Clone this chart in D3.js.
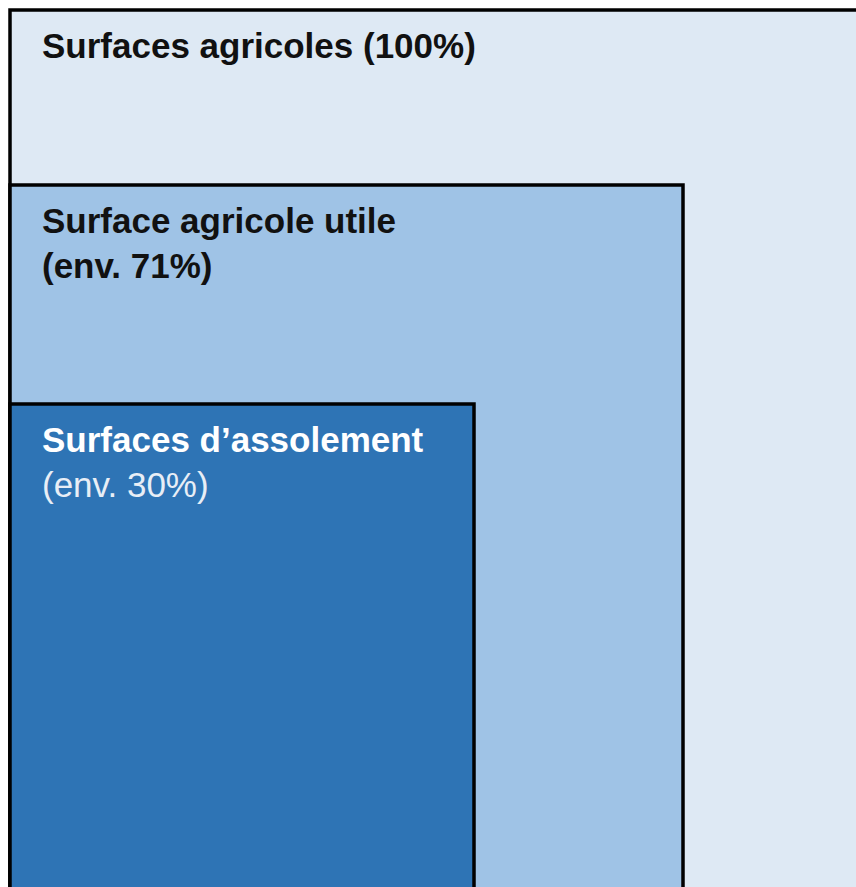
<!DOCTYPE html>
<html>
<head>
<meta charset="utf-8">
<script src="https://cdn.jsdelivr.net/npm/d3@7"></script>
<style>
  body { margin: 0; background: #fff; }
</style>
</head>
<body>
<script>
        var w = 856;
        var h = 887;

        // nested surfaces, biggest first
        var names = ["Surfaces agricoles (100%)", "Surface agricole utile", "Surfaces d\u2019assolement"];
        var subNames = ["", "(env. 71%)", "(env. 30%)"];
        var shares = [100, 71, 30];
        var fills = ["#dee9f4", "#9fc3e6", "#2e74b5"];
        var textColors = ["#111", "#111", "#fff"];

        var svg = d3.select("body").append("svg")
                  .attr("width", w)
                  .attr("height", h);

        // share -> box width / top edge (boxes share the bottom-left corner)
        var widthScale = d3.scaleLinear().domain([30, 71, 100]).range([464, 673, 900]);
        var topScale = d3.scaleLinear().domain([30, 71, 100]).range([404, 185, 10]);
        var left = 10;

        svg.selectAll("rect")
           .data(shares)
           .enter()
           .append("rect")
           .attr("x", left)
           .attr("y", function(d) { return topScale(d); })
           .attr("width", function(d) { return widthScale(d); })
           .attr("height", function(d) { return h + 50 - topScale(d); })
           .attr("fill", function(d, i) { return fills[i]; })
           .attr("stroke", "#000")
           .attr("stroke-width", 3.5);

        svg.selectAll("text.name")
           .data(shares)
           .enter().append("text")
           .attr("class", "name")
           .text(function(d, i) { return names[i]; })
           .attr("x", left + 32)
           .attr("y", function(d) { return topScale(d) + 48; })
           .attr("font-family", "'Liberation Sans', Arial, sans-serif")
           .attr("font-size", "35px")
           .attr("font-weight", "bold")
           .attr("fill", function(d, i) { return textColors[i]; });

        svg.selectAll("text.sub")
           .data(shares)
           .enter().append("text")
           .attr("class", "sub")
           .text(function(d, i) { return subNames[i]; })
           .attr("x", left + 32)
           .attr("y", function(d) { return topScale(d) + 93; })
           .attr("font-family", "'Liberation Sans', Arial, sans-serif")
           .attr("font-size", "35px")
           .attr("font-weight", function(d, i) { return i == 2 ? "normal" : "bold"; })
           .attr("fill", function(d, i) { return i == 2 ? "#e8eef6" : textColors[i]; });
</script>
</body>
</html>
